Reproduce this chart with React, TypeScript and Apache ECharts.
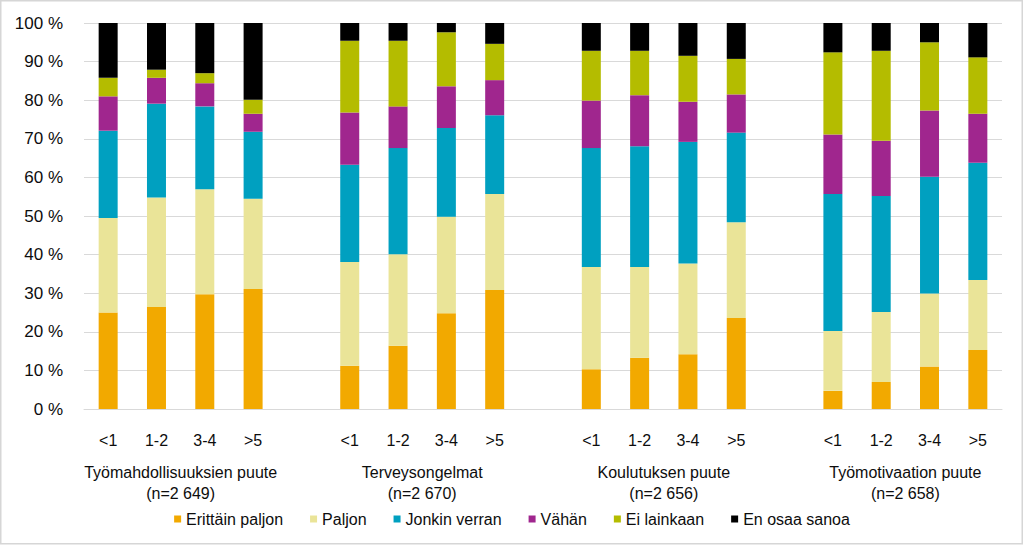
import React, { useEffect, useRef } from "react";
import * as echarts from "echarts";

// Sub-categories (years) and groups
const subCategories = ["<1", "1-2", "3-4", ">5"];
const groupNames = [
  "Työmahdollisuuksien puute\n(n=2 649)",
  "Terveysongelmat\n(n=2 670)",
  "Koulutuksen puute\n(n=2 656)",
  "Työmotivaation puute\n(n=2 658)",
];
const seriesNames = [
  "Erittäin paljon",
  "Paljon",
  "Jonkin verran",
  "Vähän",
  "Ei lainkaan",
  "En osaa sanoa",
];
const seriesColors = ["#F2A900", "#EAE498", "#00A0C0", "#A0268E", "#B4BC00", "#000000"];

// Values (%) per series: 4 groups x 4 sub-categories
const erittainPaljon = [25.0, 26.4, 29.7, 31.1, 11.2, 16.4, 24.8, 30.8, 10.3, 13.3, 14.2, 23.6, 4.7, 7.0, 11.0, 15.3];
const paljon = [24.5, 28.4, 27.2, 23.4, 26.9, 23.7, 25.0, 24.9, 26.5, 23.5, 23.5, 24.8, 15.5, 18.1, 18.9, 18.1];
const jonkinVerran = [22.6, 24.3, 21.5, 17.3, 25.2, 27.5, 23.0, 20.4, 30.8, 31.3, 31.5, 23.2, 35.5, 30.1, 30.3, 30.4];
const vahan = [8.9, 6.7, 6.0, 4.7, 13.5, 10.8, 10.8, 9.1, 12.3, 13.2, 10.4, 9.9, 15.4, 14.3, 17.1, 12.7];
const eiLainkaan = [4.8, 2.1, 2.6, 3.6, 18.6, 17.0, 14.0, 9.4, 12.9, 11.5, 11.9, 9.2, 21.3, 23.3, 17.7, 14.6];
const enOsaaSanoa = [14.2, 12.1, 13.0, 19.9, 4.6, 4.6, 2.4, 5.4, 7.2, 7.2, 8.5, 9.3, 7.6, 7.2, 5.0, 8.9];

const seriesValues = [erittainPaljon, paljon, jonkinVerran, vahan, eiLainkaan, enOsaaSanoa];

const yTicks = { min: 0, max: 100, interval: 10 };

const FONT = "'Liberation Sans', Arial, sans-serif";
const TEXT_COLOR = "#0d0d0d";

export default function App() {
  const ref = useRef<HTMLDivElement>(null);

  useEffect(() => {
    if (!ref.current) return;
    const chart = echarts.init(ref.current, null, { renderer: "svg" });

    const n = subCategories.length;
    // Build the full category list with an empty slot between groups
    const categories: string[] = [];
    groupNames.forEach((_, g) => {
      subCategories.forEach((c) => categories.push(c));
      if (g < groupNames.length - 1) categories.push("");
    });
    const expand = (vals: number[]) => {
      const out: (number | null)[] = [];
      groupNames.forEach((_, g) => {
        for (let i = 0; i < n; i++) out.push(vals[g * n + i]);
        if (g < groupNames.length - 1) out.push(null);
      });
      return out;
    };
    const groupLabelAt: Record<number, string> = {};
    groupNames.forEach((name, g) => {
      groupLabelAt[g * (n + 1) + n / 2] = name;
    });

    chart.setOption({
      animation: false,
      textStyle: { fontFamily: FONT, color: TEXT_COLOR },
      graphic: [
        {
          type: "rect",
          shape: { x: 0.75, y: 0.75, width: 1021.5, height: 543 },
          style: { fill: "none", stroke: "#d6d6d6", lineWidth: 1.5 },
          silent: true,
        },
      ],
      grid: { left: 84, right: 22, top: 23, bottom: 137 },
      legend: {
        data: seriesNames,
        left: "center",
        top: 506,
        icon: "rect",
        itemWidth: 7,
        itemHeight: 7,
        itemGap: 27,
        textStyle: { fontSize: 16, fontFamily: FONT, color: TEXT_COLOR },
      },
      xAxis: [
        {
          type: "category",
          data: categories,
          axisLine: { show: true, lineStyle: { color: "#d9d9d9", width: 1 } },
          axisTick: { show: false },
          axisLabel: {
            interval: 0,
            margin: 23,
            fontSize: 16,
            fontFamily: FONT,
            color: TEXT_COLOR,
          },
        },
        {
          type: "value",
          position: "bottom",
          min: 0,
          max: categories.length,
          interval: 1,
          axisLine: { show: false },
          axisTick: { show: false },
          splitLine: { show: false },
          axisLabel: {
            margin: 53,
            fontSize: 16,
            lineHeight: 21,
            fontFamily: FONT,
            color: TEXT_COLOR,
            align: "center",
            formatter: (v: number) => groupLabelAt[v] || "",
          },
        },
      ],
      yAxis: {
        type: "value",
        min: yTicks.min,
        max: yTicks.max,
        interval: yTicks.interval,
        axisLine: { show: false },
        axisTick: { show: false },
        splitLine: { lineStyle: { color: "#d9d9d9", width: 1 } },
        axisLabel: {
          margin: 21,
          fontSize: 17,
          fontFamily: FONT,
          color: TEXT_COLOR,
          formatter: "{value} %",
        },
      },
      series: seriesNames.map((name, i) => ({
        name,
        type: "bar",
        stack: "total",
        xAxisIndex: 0,
        barWidth: 19,
        itemStyle: { color: seriesColors[i] },
        emphasis: { disabled: true },
        data: expand(seriesValues[i]),
      })),
    });

    return () => chart.dispose();
  }, []);

  return (
    <div
      ref={ref}
      style={{ position: "absolute", left: 0, top: 0, width: 1024, height: 546, background: "#fff" }}
    />
  );
}
